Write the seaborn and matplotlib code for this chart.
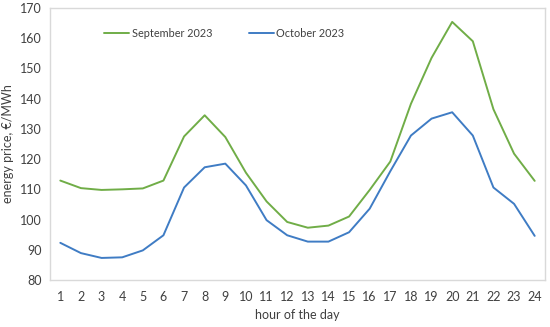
import matplotlib
matplotlib.use("Agg")
import matplotlib.pyplot as plt
import seaborn as sns
import pandas as pd

hours = list(range(1, 25))
sep_2023 = [112.9, 110.4, 109.8, 110.0, 110.3, 112.9, 127.5, 134.5, 127.3, 115.5, 106.0, 99.2,
            97.3, 98.0, 101.0, 109.8, 119.2, 138.3, 153.5, 165.4, 159.0, 136.5, 121.8, 112.8]
oct_2023 = [92.3, 88.9, 87.3, 87.5, 89.8, 94.8, 110.6, 117.3, 118.5, 111.3, 99.8, 94.8,
            92.7, 92.7, 95.8, 103.6, 116.0, 127.8, 133.4, 135.5, 127.8, 110.6, 105.2, 94.6]
series_names = ["September 2023", "October 2023"]
colors = ["#70AD47", "#3F7CC4"]

df = pd.DataFrame({
    "hour": hours * 2,
    "price": sep_2023 + oct_2023,
    "series": [series_names[0]] * 24 + [series_names[1]] * 24,
})

sns.set_style("white")
plt.rcParams["font.family"] = ["Lato", "DejaVu Sans"]

fig = plt.figure(figsize=(5.5, 3.27), dpi=100)
ax = fig.add_axes([50 / 550, (327 - 280) / 327, 495 / 550, 272 / 327])
sns.lineplot(data=df, x="hour", y="price", hue="series", palette=colors,
             linewidth=1.4, ax=ax)

ax.set_xlim(0.5, 24.5)
ax.set_ylim(80, 170)
ax.set_xticks(hours)
ax.set_xticklabels([str(h) for h in hours], fontsize=9, color="#404040")
ax.set_yticks(range(80, 171, 10))
ax.set_yticklabels([str(v) for v in range(80, 171, 10)], fontsize=9, color="#404040")
ax.tick_params(axis="x", length=0, pad=8)
ax.tick_params(axis="y", length=0, pad=6)
ax.set_xlabel("hour of the day", fontsize=9, color="#404040", labelpad=4)
ax.set_ylabel("energy price, \u20ac/MWh", fontsize=9, color="#404040", labelpad=4)
for s in ax.spines.values():
    s.set_color("#D9D9D9")
    s.set_linewidth(1.0)
ax.grid(False)

leg = ax.legend(loc="center", bbox_to_anchor=(0.352, 0.908), ncol=2, frameon=False,
                fontsize=7.8, handlelength=2.3, handletextpad=0.2, columnspacing=3.4)
for t in leg.get_texts():
    t.set_color("#404040")

fig.savefig("out.png", dpi=100)
